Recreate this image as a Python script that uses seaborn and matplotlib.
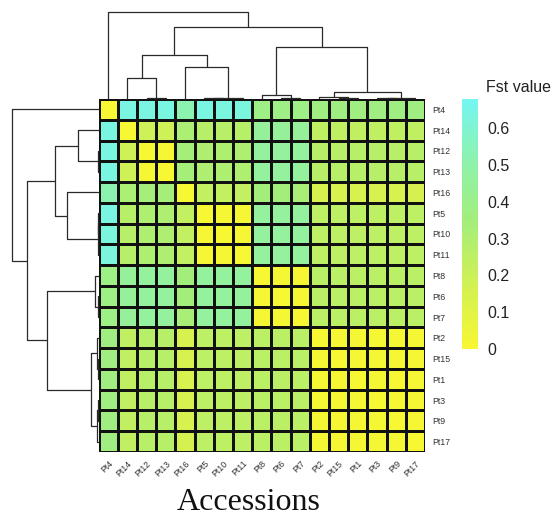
import numpy as np
import pandas as pd
import matplotlib
matplotlib.use("Agg")
import matplotlib.pyplot as plt
import seaborn as sns
from matplotlib.colors import LinearSegmentedColormap
from matplotlib.ticker import FuncFormatter

sns.set_style("white")
plt.rcParams["font.family"] = ["Liberation Sans", "DejaVu Sans"]

# ---------------- data ----------------
accessions = ["Pt4", "Pt14", "Pt12", "Pt13", "Pt16", "Pt5", "Pt10", "Pt11",
              "Pt8", "Pt6", "Pt7", "Pt2", "Pt15", "Pt1", "Pt3", "Pt9", "Pt17"]

fst = [
    # Pt4  Pt14 Pt12 Pt13 Pt16 Pt5  Pt10 Pt11 Pt8  Pt6  Pt7  Pt2  Pt15 Pt1  Pt3  Pt9  Pt17
    [0.00, 0.64, 0.64, 0.64, 0.52, 0.64, 0.63, 0.63, 0.38, 0.38, 0.38, 0.37, 0.37, 0.37, 0.37, 0.37, 0.37],  # Pt4
    [0.64, 0.00, 0.19, 0.19, 0.32, 0.27, 0.27, 0.27, 0.45, 0.45, 0.45, 0.24, 0.24, 0.24, 0.24, 0.24, 0.24],  # Pt14
    [0.64, 0.19, 0.00, 0.01, 0.34, 0.31, 0.31, 0.31, 0.46, 0.46, 0.46, 0.27, 0.27, 0.27, 0.27, 0.27, 0.27],  # Pt12
    [0.64, 0.19, 0.01, 0.00, 0.34, 0.31, 0.31, 0.31, 0.46, 0.46, 0.46, 0.27, 0.27, 0.27, 0.27, 0.27, 0.27],  # Pt13
    [0.52, 0.32, 0.34, 0.34, 0.00, 0.23, 0.23, 0.23, 0.35, 0.35, 0.33, 0.15, 0.15, 0.15, 0.15, 0.15, 0.16],  # Pt16
    [0.64, 0.27, 0.31, 0.31, 0.23, 0.00, 0.01, 0.01, 0.46, 0.46, 0.46, 0.25, 0.25, 0.25, 0.25, 0.25, 0.25],  # Pt5
    [0.63, 0.27, 0.31, 0.31, 0.23, 0.01, 0.00, 0.01, 0.46, 0.46, 0.46, 0.25, 0.25, 0.25, 0.25, 0.25, 0.25],  # Pt10
    [0.63, 0.27, 0.31, 0.31, 0.23, 0.01, 0.01, 0.00, 0.46, 0.46, 0.46, 0.25, 0.25, 0.25, 0.25, 0.25, 0.25],  # Pt11
    [0.38, 0.45, 0.46, 0.46, 0.35, 0.46, 0.46, 0.46, 0.00, 0.01, 0.01, 0.26, 0.26, 0.26, 0.26, 0.26, 0.26],  # Pt8
    [0.38, 0.45, 0.46, 0.46, 0.35, 0.46, 0.46, 0.46, 0.01, 0.00, 0.01, 0.26, 0.26, 0.26, 0.26, 0.26, 0.26],  # Pt6
    [0.38, 0.45, 0.46, 0.46, 0.33, 0.46, 0.46, 0.46, 0.01, 0.01, 0.00, 0.26, 0.26, 0.26, 0.26, 0.26, 0.26],  # Pt7
    [0.37, 0.24, 0.27, 0.27, 0.15, 0.25, 0.25, 0.25, 0.26, 0.26, 0.26, 0.00, 0.01, 0.01, 0.01, 0.01, 0.01],  # Pt2
    [0.37, 0.24, 0.27, 0.27, 0.15, 0.25, 0.25, 0.25, 0.26, 0.26, 0.26, 0.01, 0.00, 0.01, 0.01, 0.01, 0.01],  # Pt15
    [0.37, 0.24, 0.27, 0.27, 0.15, 0.25, 0.25, 0.25, 0.26, 0.26, 0.26, 0.01, 0.01, 0.00, 0.01, 0.01, 0.01],  # Pt1
    [0.37, 0.24, 0.27, 0.27, 0.15, 0.25, 0.25, 0.25, 0.26, 0.26, 0.26, 0.01, 0.01, 0.01, 0.00, 0.01, 0.01],  # Pt3
    [0.37, 0.24, 0.27, 0.27, 0.15, 0.25, 0.25, 0.25, 0.26, 0.26, 0.26, 0.01, 0.01, 0.01, 0.01, 0.00, 0.01],  # Pt9
    [0.37, 0.24, 0.27, 0.27, 0.16, 0.25, 0.25, 0.25, 0.26, 0.26, 0.26, 0.01, 0.01, 0.01, 0.01, 0.01, 0.00],  # Pt17
]

# hierarchical clustering merges: (left, right, height)
merge_left = ["Pt12", "Pt5", "c1", "Pt14", "Pt16", "c3", "Pt6", "Pt8", "Pt15", "Pt2",
              "Pt3", "c10", "c9", "c7", "c5", "Pt4"]
merge_right = ["Pt13", "Pt10", "Pt11", "c0", "c2", "c4", "Pt7", "c6", "Pt1", "c8",
               "Pt9", "Pt17", "c11", "c12", "c13", "c14"]
merge_height = [0.005, 0.005, 0.008, 0.21, 0.318, 0.44, 0.005, 0.035, 0.005, 0.015,
                0.005, 0.012, 0.073, 0.523, 0.723, 0.87]

cbar_ticks = [0, 0.1, 0.2, 0.3, 0.4, 0.5, 0.6]

# ---------------- figure ----------------
W, H = 557, 521
fig = plt.figure(figsize=(W / 100, H / 100), dpi=100)


def px_axes(x0, y0, x1, y1):
    return fig.add_axes([x0 / W, 1 - y1 / H, (x1 - x0) / W, (y1 - y0) / H])


hm_x0, hm_y0, hm_x1, hm_y1 = 98.6, 99, 425, 452
ax = px_axes(hm_x0, hm_y0, hm_x1, hm_y1)
cax = px_axes(462, 99, 478, 349)
ax_top = px_axes(hm_x0, 0, hm_x1, hm_y0)
ax_left = px_axes(0, hm_y0, hm_x0, hm_y1)

cmap = LinearSegmentedColormap.from_list(
    "fst", [(0.0, "#f8f733"), (0.25, "#d2f152"), (0.52, "#a2ee7c"), (0.75, "#8ef2ac"), (1.0, "#74f6f2")])

df = pd.DataFrame(fst, index=accessions, columns=accessions)
sns.heatmap(df, ax=ax, cmap=cmap, vmin=0, vmax=0.68, cbar_ax=cax,
            linewidths=0.8, linecolor="#111111", xticklabels=True, yticklabels=True)

ax.yaxis.tick_right()
ax.set_yticklabels(accessions, rotation=0, fontsize=6.3, color="#333333")
ax.set_xticklabels(accessions, rotation=45, ha="right", rotation_mode="anchor",
                   fontsize=6.3, color="#333333")
ax.tick_params(axis="both", length=0)
ax.tick_params(axis="y", pad=5)
ax.tick_params(axis="x", pad=5)
ax.set_xlabel("")
ax.set_ylabel("")

cax.set_yticks(cbar_ticks)
cax.yaxis.set_major_formatter(FuncFormatter(lambda v, p: "0" if abs(v) < 1e-9 else f"{v:.1f}"))
cax.tick_params(length=0, labelsize=11.5, pad=7, colors="#222222")
for s in cax.spines.values():
    s.set_visible(False)

fig.text(486 / W, 1 - 88 / H, "Fst value", ha="left", va="center", fontsize=11.5, color="#222222")
fig.text(249 / W, 1 - 503 / H, "Accessions", ha="center", va="center", fontsize=23,
         family=["Liberation Serif", "DejaVu Serif"], color="#111111")

# ---------------- dendrograms ----------------
pos = {name: i + 0.5 for i, name in enumerate(accessions)}
hgt = {name: 0.0 for name in accessions}
segments = []
for k, (a, b, h) in enumerate(zip(merge_left, merge_right, merge_height)):
    xa, xb = pos[a], pos[b]
    segments.append(([xa, xa, xb, xb], [hgt[a], h, h, hgt[b]]))
    pos[f"c{k}"] = (xa + xb) / 2
    hgt[f"c{k}"] = h

line_kw = dict(color="#2a2a2a", lw=0.9, solid_capstyle="butt", clip_on=False)
for xs, hs in segments:
    ax_top.plot(xs, hs, **line_kw)
    ax_left.plot(hs, xs, **line_kw)

ax_top.set_xlim(0, len(accessions))
ax_top.set_ylim(0, 0.99)
ax_left.set_ylim(len(accessions), 0)
ax_left.set_xlim(0.99, 0)
for a_ in (ax_top, ax_left):
    a_.axis("off")

fig.savefig("out.png", dpi=100)
